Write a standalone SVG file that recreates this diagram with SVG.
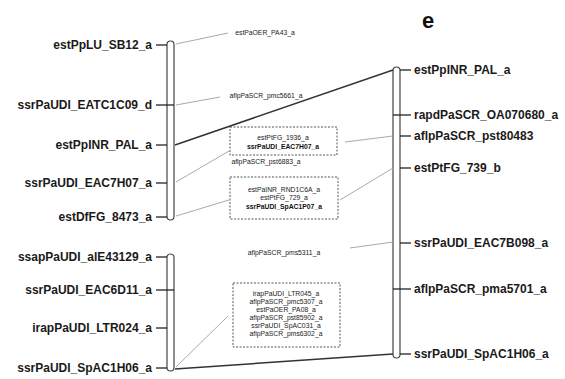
<svg xmlns="http://www.w3.org/2000/svg" width="565" height="379" viewBox="0 0 565 379">
<style>
.lbl{font-family:"Liberation Sans",Arial,sans-serif;font-size:12px;font-weight:bold;fill:#1a1a1a}
.sm{font-family:"Liberation Sans",Arial,sans-serif;font-size:6.8px;fill:#222;text-anchor:middle}
.smb{font-family:"Liberation Sans",Arial,sans-serif;font-size:6.8px;font-weight:bold;fill:#111;text-anchor:middle}
.chr{fill:none;stroke:#444;stroke-width:1.2}
.tick{stroke:#222;stroke-width:1.3}
.thin{stroke:#aaa;stroke-width:1;fill:none}
.thick{stroke:#333;stroke-width:1.5;fill:none}
.box{fill:none;stroke:#555;stroke-width:1;stroke-dasharray:2,1.5}
</style>
<rect width="565" height="379" fill="#fff"/>
<text x="422" y="28" style="font-family:'Liberation Sans',Arial,sans-serif;font-size:22px;font-weight:bold" fill="#111">e</text>

<g id="chrL1">
<rect class="chr" x="167" y="41" width="7" height="179" rx="3.5"/>
<line class="tick" x1="156" y1="45" x2="167" y2="45"/>
<text class="lbl" x="152" y="49" text-anchor="end">estPpLU_SB12_a</text>
<line class="tick" x1="156" y1="105" x2="174" y2="105"/>
<text class="lbl" x="152" y="109" text-anchor="end">ssrPaUDI_EATC1C09_d</text>
<line class="tick" x1="156" y1="145" x2="167" y2="145"/>
<text class="lbl" x="152" y="149" text-anchor="end">estPpINR_PAL_a</text>
<line class="tick" x1="156" y1="183" x2="167" y2="183"/>
<text class="lbl" x="152" y="187" text-anchor="end">ssrPaUDI_EAC7H07_a</text>
<line class="tick" x1="156" y1="217" x2="167" y2="217"/>
<text class="lbl" x="152" y="221" text-anchor="end">estDfFG_8473_a</text>
</g>

<g id="chrL2">
<rect class="chr" x="167" y="254" width="7" height="117" rx="3.5"/>
<line class="tick" x1="156" y1="257" x2="167" y2="257"/>
<text class="lbl" x="152" y="261" text-anchor="end">ssapPaUDI_alE43129_a</text>
<line class="tick" x1="156" y1="290" x2="174" y2="290"/>
<text class="lbl" x="152" y="294" text-anchor="end">ssrPaUDI_EAC6D11_a</text>
<line class="tick" x1="156" y1="328" x2="167" y2="328"/>
<text class="lbl" x="152" y="332" text-anchor="end">irapPaUDI_LTR024_a</text>
<line class="tick" x1="156" y1="368" x2="167" y2="368"/>
<text class="lbl" x="152" y="372" text-anchor="end">ssrPaUDI_SpAC1H06_a</text>
</g>

<g id="chrR">
<rect class="chr" x="393" y="67" width="7" height="291" rx="3.5"/>
<line class="tick" x1="400" y1="70" x2="411" y2="70"/>
<text class="lbl" x="414" y="74">estPpINR_PAL_a</text>
<line class="tick" x1="393" y1="115" x2="411" y2="115"/>
<text class="lbl" x="414" y="119">rapdPaSCR_OA070680_a</text>
<line class="tick" x1="400" y1="136" x2="411" y2="136"/>
<text class="lbl" x="414" y="140">aflpPaSCR_pst80483</text>
<line class="tick" x1="400" y1="168" x2="411" y2="168"/>
<text class="lbl" x="414" y="172">estPtFG_739_b</text>
<line class="tick" x1="400" y1="243" x2="411" y2="243"/>
<text class="lbl" x="414" y="247">ssrPaUDI_EAC7B098_a</text>
<line class="tick" x1="393" y1="289" x2="411" y2="289"/>
<text class="lbl" x="414" y="293">aflpPaSCR_pma5701_a</text>
<line class="tick" x1="400" y1="354" x2="411" y2="354"/>
<text class="lbl" x="414" y="358">ssrPaUDI_SpAC1H06_a</text>
</g>

<g id="mid-top">
<text class="sm" x="265" y="35">estPaOER_PA43_a</text>
<text class="sm" x="266" y="98">aflpPaSCR_pmc5661_a</text>
</g>

<g id="box1">
<rect class="box" x="230" y="127" width="107" height="28"/>
<text class="sm" x="283" y="140">estPtFG_1936_a</text>
<text class="smb" x="283" y="149">ssrPaUDI_EAC7H07_a</text>
</g>
<text class="sm" x="266" y="164">aflpPaSCR_pst6883_a</text>

<g id="box2">
<rect class="box" x="230" y="177" width="108" height="42"/>
<text class="sm" x="284" y="192">estPaINR_RND1C6A_a</text>
<text class="sm" x="284" y="200">estPtFG_729_a</text>
<text class="smb" x="284" y="209">ssrPaUDI_SpAC1P07_a</text>
</g>

<text class="sm" x="284" y="255">aflpPaSCR_pms5311_a</text>

<g id="box3">
<rect class="box" x="233" y="283" width="107" height="64"/>
<text class="sm" x="286" y="296">irapPaUDI_LTR045_a</text>
<text class="sm" x="286" y="304">aflpPaSCR_pmc5307_a</text>
<text class="sm" x="286" y="312">estPaOER_PA08_a</text>
<text class="sm" x="286" y="320">aflpPaSCR_pst85902_a</text>
<text class="sm" x="286" y="328">ssrPaUDI_SpAC031_a</text>
<text class="sm" x="286" y="336">aflpPaSCR_pms6302_a</text>
</g>

<g id="connectors">
<line class="thin" x1="176" y1="44" x2="228" y2="33"/>
<line class="thin" x1="176" y1="105" x2="220" y2="97"/>
<line class="thick" x1="175" y1="145" x2="393" y2="70"/>
<line class="thin" x1="176" y1="182" x2="229" y2="151"/>
<line class="thin" x1="176" y1="216" x2="229" y2="200"/>
<line class="thin" x1="345" y1="142" x2="393" y2="136"/>
<line class="thin" x1="340" y1="200" x2="393" y2="168"/>
<line class="thin" x1="350" y1="248" x2="393" y2="242"/>
<line class="thin" x1="176" y1="367" x2="228" y2="316"/>
<line class="thick" x1="175" y1="369" x2="393" y2="354"/>
</g>
</svg>
